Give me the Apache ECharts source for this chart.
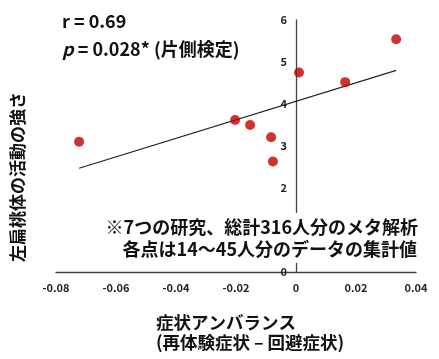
<!DOCTYPE html>
<html><head><meta charset="utf-8">
<script src="https://cdn.jsdelivr.net/npm/echarts@6/dist/echarts.min.js"></script>
<style>html,body{margin:0;padding:0;background:#fff}#c{width:439px;height:359px}</style>
</head><body><div id="c"></div>
<script>
const xValues = [-0.0723, -0.0203, -0.0153, -0.0083, -0.0077, 0.0010, 0.0164, 0.0334];
const yValues = [3.10, 3.62, 3.50, 3.21, 2.63, 4.75, 4.52, 5.54];
const fitX = [-0.0723, 0.0334];
const fitY = [2.47, 4.80];
const xTicks = [-0.08, -0.06, -0.04, -0.02, 0, 0.02, 0.04];
const yTicks = [0, 1, 2, 3, 4, 5, 6];
const statLines = ['r = 0.69', '{i|p} = 0.028* (片側検定)'];
const noteLines = ['※7つの研究、総計316人分のメタ解析', '各点は14〜45人分のデータの集計値'];
const xTitle = ['症状アンバランス', '(再体験症状 – 回避症状)'];
const yTitle = '左扁桃体の活動の強さ';

const FONT = '"Noto Sans CJK JP", "Noto Sans", sans-serif';
const GRID = {left: 56, right: 23, top: 20, bottom: 87};
const PLOT_W = 439 - GRID.left - GRID.right;
// pixel offset of the x = 0 position from the grid's left edge (y axis sits there)
const zeroOffset = PLOT_W * (0 - xTicks[0]) / (xTicks[xTicks.length - 1] - xTicks[0]);

const chart = echarts.init(document.getElementById('c'), null, {renderer: 'canvas'});
const txt = (x, y, text, opt) => ({
  type: 'text', x: x, y: y, z: 100,
  style: Object.assign({text: text, fontFamily: FONT, fontWeight: 'bold', fontSize: 18, fill: '#111',
    textVerticalAlign: 'middle', verticalAlign: 'middle'}, opt || {})
});

const option = {
  animation: false,
  backgroundColor: '#fff',
  grid: GRID,
  xAxis: {
    type: 'value', min: xTicks[0], max: xTicks[xTicks.length - 1], interval: 0.02,
    splitLine: {show: false}, axisTick: {show: false},
    axisLine: {lineStyle: {color: '#444', width: 1.3}},
    axisLabel: {fontFamily: FONT, fontWeight: 'bold', fontSize: 11, color: '#222', margin: 10,
      formatter: v => (Math.abs(v) < 1e-9 ? '0' : String(+v.toFixed(2)))}
  },
  yAxis: {
    type: 'value', min: yTicks[0], max: yTicks[yTicks.length - 1], interval: 1,
    position: 'left', offset: -zeroOffset,
    splitLine: {show: false}, axisTick: {show: false},
    axisLine: {show: true, onZero: false, lineStyle: {color: '#444', width: 1.3}},
    axisLabel: {fontFamily: FONT, fontWeight: 'bold', fontSize: 11, color: '#222', margin: 9}
  },
  series: [
    {type: 'line', data: fitX.map((x, i) => [x, fitY[i]]), symbol: 'none',
      lineStyle: {color: '#222', width: 1.2}, z: 2},
    {type: 'scatter', data: xValues.map((x, i) => [x, yValues[i]]), symbolSize: 10,
      itemStyle: {color: '#c00000'}, z: 3}
  ],
  graphic: [
    {type: 'rect', z: 90, shape: {x: 108, y: 213, width: 315, height: 50}, style: {fill: '#fff'}},
    txt(62, 21, statLines[0]),
    txt(62, 49, statLines[1], {rich: {i: {fontStyle: 'italic', fontWeight: 'bold', fontFamily: FONT, fontSize: 18, fill: '#111'}}}),
    txt(418, 227, noteLines[0], {align: 'right', textAlign: 'right'}),
    txt(417, 249, noteLines[1], {align: 'right', textAlign: 'right'}),
    txt(156, 322, xTitle[0], {fontSize: 17.5}),
    txt(156, 342, xTitle[1], {fontSize: 17.5}),
    {type: 'text', x: 18, y: 177, rotation: Math.PI / 2, z: 100,
      style: {text: yTitle, fontFamily: FONT, fontWeight: 'bold', fontSize: 17, fill: '#111',
        align: 'center', textAlign: 'center', verticalAlign: 'middle', textVerticalAlign: 'middle'}}
  ]
};
chart.setOption(option);
</script></body></html>
